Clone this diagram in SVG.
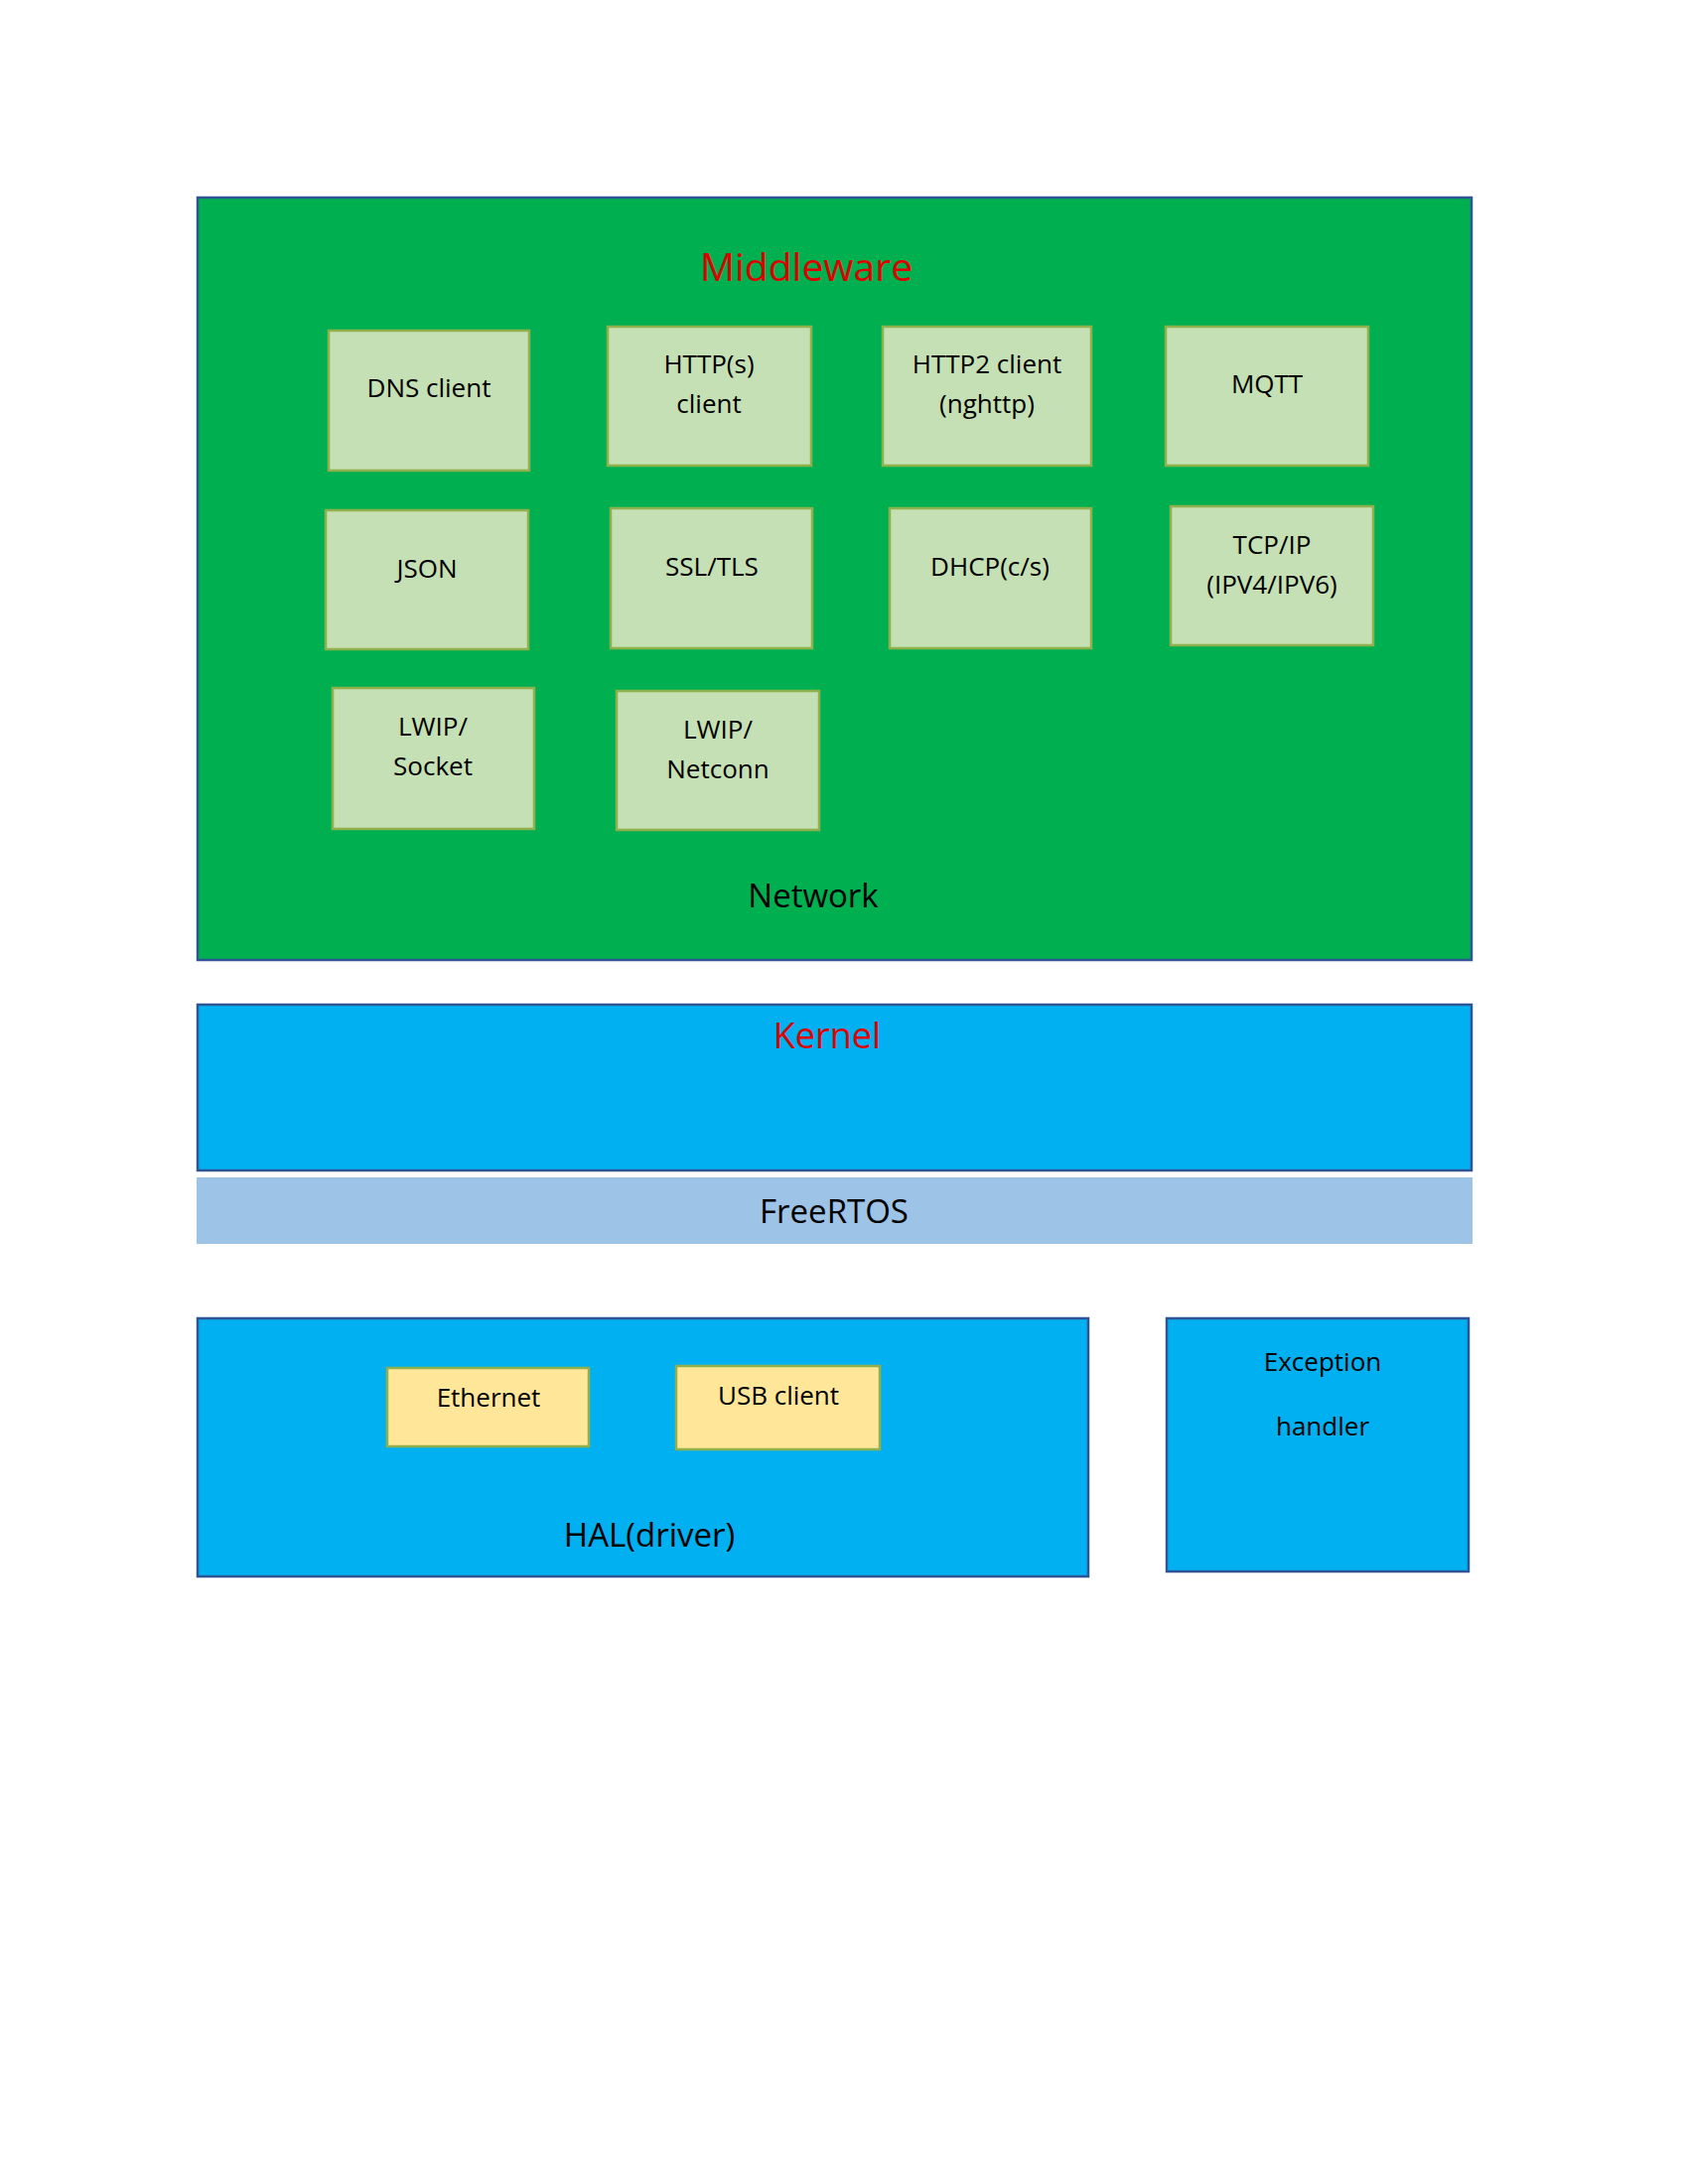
<svg xmlns="http://www.w3.org/2000/svg" width="1700" height="2200" viewBox="0 0 1700 2200">
<style>
text{font-family:"Open Sans","Noto Sans",sans-serif;text-anchor:middle;fill:#000}
.box{fill:#c5e0b4;stroke:#8fb04a;stroke-width:2.5}
.y{fill:#ffe699;stroke:#8fb04a;stroke-width:2.5}
.blue{fill:#00b0f0;stroke:#2f5597;stroke-width:2.5}
.t{font-size:26px}
.red{fill:#e00000}
</style>
<rect width="1700" height="2200" fill="#fff"/>
<g id="middleware">
<rect x="199" y="199" width="1283" height="768" fill="#00b050" stroke="#2f5597" stroke-width="2.5"/>
<text x="812" y="283" font-size="39" class="red">Middleware</text>
<text x="819" y="914" font-size="33">Network</text>
</g>
<g id="dns"><rect class="box" x="331" y="333" width="202" height="141"/><text class="t" x="432" y="400">DNS client</text></g>
<g id="https"><rect class="box" x="612" y="329" width="205" height="140"/><text class="t" x="714" y="376">HTTP(s)</text><text class="t" x="714" y="416">client</text></g>
<g id="http2"><rect class="box" x="889" y="329" width="210" height="140"/><text class="t" x="994" y="376">HTTP2 client</text><text class="t" x="994" y="416">(nghttp)</text></g>
<g id="mqtt"><rect class="box" x="1174" y="329" width="204" height="140"/><text class="t" x="1276" y="396">MQTT</text></g>
<g id="json"><rect class="box" x="328" y="514" width="204" height="140"/><text class="t" x="430" y="582">JSON</text></g>
<g id="ssl"><rect class="box" x="615" y="512" width="203" height="141"/><text class="t" x="717" y="580">SSL/TLS</text></g>
<g id="dhcp"><rect class="box" x="896" y="512" width="203" height="141"/><text class="t" x="997" y="580">DHCP(c/s)</text></g>
<g id="tcpip"><rect class="box" x="1179" y="510" width="204" height="140"/><text class="t" x="1281" y="558">TCP/IP</text><text class="t" x="1281" y="598">(IPV4/IPV6)</text></g>
<g id="lwip-socket"><rect class="box" x="335" y="693" width="203" height="142"/><text class="t" x="436" y="741">LWIP/</text><text class="t" x="436" y="781">Socket</text></g>
<g id="lwip-netconn"><rect class="box" x="621" y="696" width="204" height="140"/><text class="t" x="723" y="744">LWIP/</text><text class="t" x="723" y="784">Netconn</text></g>
<g id="kernel"><rect class="blue" x="199" y="1012" width="1283" height="167"/><text x="833" y="1056" font-size="36" class="red">Kernel</text></g>
<g id="freertos"><rect x="198" y="1186" width="1285" height="67" fill="#9dc3e6"/><text x="840" y="1232" font-size="33">FreeRTOS</text></g>
<g id="hal"><rect class="blue" x="199" y="1328" width="897" height="260"/><text x="654" y="1558" font-size="33">HAL(driver)</text></g>
<g id="ethernet"><rect class="y" x="390" y="1378" width="203" height="79"/><text class="t" x="492" y="1417">Ethernet</text></g>
<g id="usb"><rect class="y" x="681" y="1376" width="205" height="84"/><text class="t" x="784" y="1415">USB client</text></g>
<g id="exception"><rect class="blue" x="1175" y="1328" width="304" height="255"/><text class="t" x="1332" y="1381">Exception</text><text class="t" x="1332" y="1446">handler</text></g>
<g id="connectors"/>
</svg>
